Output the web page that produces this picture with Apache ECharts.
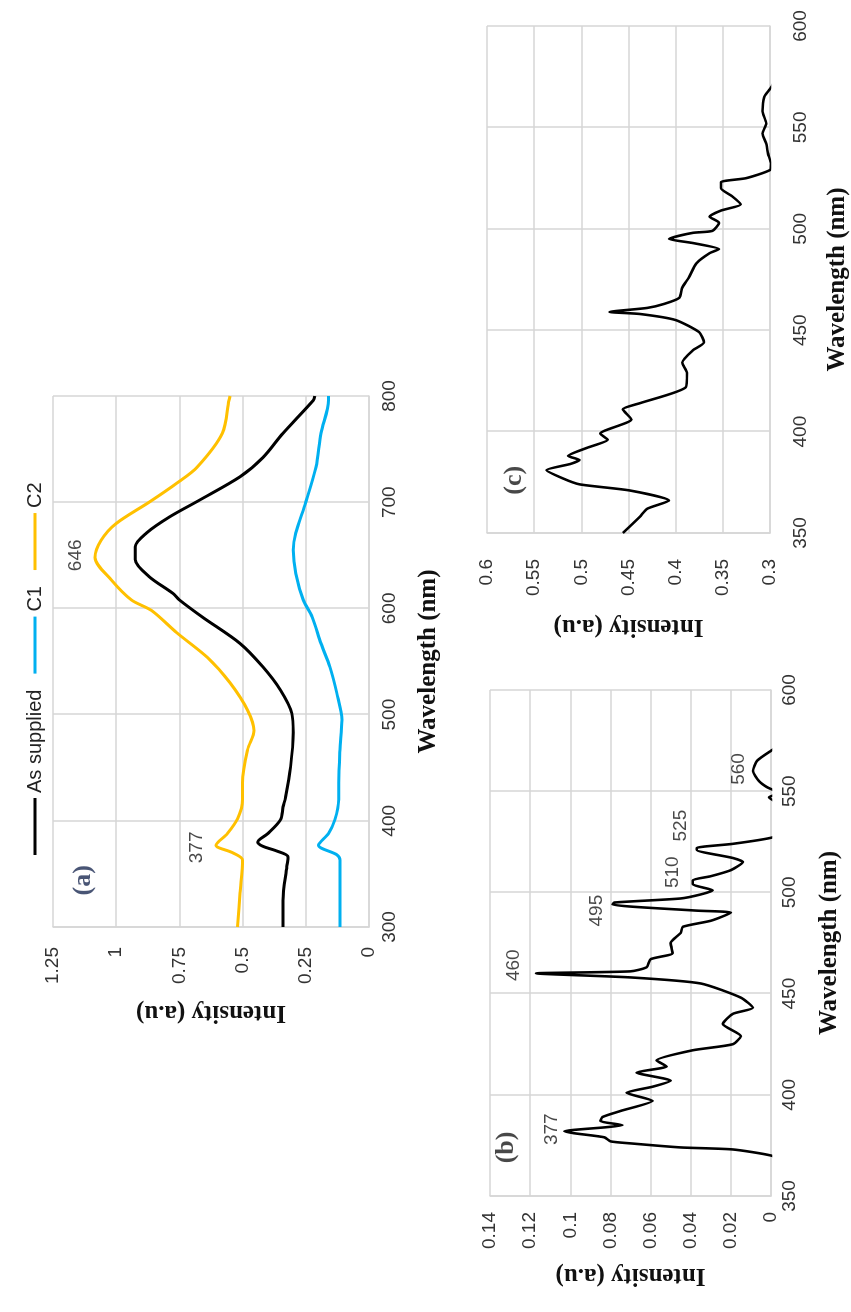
<!DOCTYPE html>
<html>
<head>
<meta charset="utf-8">
<script src="https://cdn.jsdelivr.net/npm/echarts@6/dist/echarts.min.js"></script>
<style>
html,body{margin:0;padding:0;background:#fff;overflow:hidden;width:851px;height:1312px;}
#rot{position:absolute;left:0;top:0;width:1312px;height:851px;transform-origin:0 0;transform:translate(0px,1312px) rotate(-90deg);}
#chart{width:1312px;height:851px;}
</style>
</head>
<body>
<div id="rot"><div id="chart"></div></div>
<script>
// ---- Data (wavelength nm, intensity a.u.) ----
const seriesNamesA = ['As supplied', 'C1', 'C2'];

const asSupplied = [[300,0.34],[325,0.34],[357,0.325],[366,0.32],[372,0.37],[376,0.42],[380,0.44],[388,0.40],[401,0.35],[413,0.34],[422,0.33],[451,0.31],[483,0.30],[501,0.305],[523,0.35],[545,0.42],[567,0.51],[592,0.66],[608,0.75],[614,0.775],[630,0.87],[646,0.925],[658,0.925],[671,0.88],[686,0.79],[702,0.67],[724,0.51],[742,0.42],[765,0.34],[796,0.22],[800,0.215]];

const c1 = [[300,0.115],[363,0.115],[368,0.127],[377,0.20],[388,0.16],[401,0.135],[420,0.12],[436,0.12],[467,0.115],[495,0.107],[520,0.127],[545,0.155],[567,0.19],[592,0.225],[608,0.26],[633,0.29],[655,0.30],[671,0.29],[700,0.25],[733,0.21],[765,0.19],[796,0.16],[800,0.16]];

const c2 = [[300,0.52],[332,0.51],[363,0.50],[370,0.54],[377,0.605],[388,0.56],[402,0.52],[420,0.50],[436,0.50],[467,0.48],[485,0.455],[504,0.48],[530,0.55],[554,0.64],[577,0.76],[598,0.86],[608,0.94],[627,1.02],[648,1.084],[664,1.06],[680,1.0],[700,0.87],[718,0.76],[733,0.68],[765,0.58],[796,0.554],[800,0.55]];

const spectrumB = [[366,-0.01],[370,0.0],[373,0.019],[374,0.045],[376,0.07],[377,0.08],[379,0.083],[381,0.098],[382,0.103],[384,0.082],[385,0.074],[387,0.085],[389,0.084],[392,0.075],[397,0.059],[401,0.072],[404,0.059],[407,0.05],[411,0.067],[414,0.052],[417,0.057],[422,0.039],[425,0.019],[429,0.015],[435,0.024],[440,0.019],[443,0.009],[448,0.015],[455,0.035],[458,0.07],[460,0.117],[461,0.07],[463,0.062],[467,0.06],[470,0.049],[475,0.05],[480,0.045],[483,0.044],[486,0.03],[490,0.02],[491,0.037],[494,0.079],[495,0.078],[497,0.045],[499,0.035],[501,0.029],[504,0.039],[506,0.039],[508,0.03],[511,0.02],[515,0.014],[517,0.019],[521,0.037],[522,0.037],[524,0.019],[527,0.0],[531,-0.01],[540,-0.01],[547,0.001],[549,-0.004],[552,0.002],[555,0.006],[560,0.009],[565,0.007],[570,0.0],[575,-0.008]];

const spectrumC = [[350,0.456],[358,0.438],[362,0.43],[366,0.407],[371,0.449],[374,0.502],[377,0.52],[381,0.537],[384,0.512],[386,0.502],[388,0.514],[392,0.494],[396,0.472],[399,0.48],[406,0.447],[411,0.456],[414,0.438],[422,0.389],[429,0.388],[434,0.393],[440,0.382],[444,0.37],[449,0.375],[455,0.40],[458,0.438],[459,0.47],[461,0.43],[463,0.412],[466,0.396],[471,0.393],[476,0.386],[483,0.378],[488,0.364],[490,0.354],[493,0.382],[495,0.407],[498,0.382],[499,0.361],[503,0.354],[506,0.364],[509,0.352],[512,0.331],[516,0.34],[520,0.352],[523,0.352],[525,0.325],[529,0.30],[532,0.299],[537,0.302],[542,0.304],[547,0.308],[552,0.304],[558,0.308],[565,0.306],[569,0.30],[572,0.296],[580,0.29]];

// peak annotations: [text, wavelength, intensity]
const peaksA = [['646',650,1.16],['377',375,0.68]];
const peaksB = [['377',383,0.109],['460',464,0.128],['495',491,0.087],['510',510,0.049],['525',533,0.045],['560',561,0.016]];
const panelLabels = [['(a)',0,344,1.13],['(b)',1,374,0.132],['(c)',2,376,0.571]];

// ---- Styling ----
const gridColor = '#d6d6d6';
const tickFont = {fontFamily:'Liberation Sans', fontSize:19, color:'#333'};
const nameFont = {fontFamily:'Liberation Serif', fontWeight:'bold', fontSize:25, color:'#111'};

function xAx(idx, min, max, interval, labelMargin, nameGap){
  return {type:'value', gridIndex:idx, min:min, max:max, interval:interval,
    name:'Wavelength (nm)', nameLocation:'middle', nameGap:nameGap, nameTextStyle:nameFont,
    axisLine:{show:true, lineStyle:{color:gridColor, width:1.5}}, axisTick:{show:false},
    axisLabel:Object.assign({margin:labelMargin}, tickFont),
    splitLine:{show:true, lineStyle:{color:gridColor, width:1.5}}};
}
function yAx(idx, min, max, interval, labelMargin, nameGap){
  return {type:'value', gridIndex:idx, min:min, max:max, interval:interval,
    name:'Intensity (a.u)', nameLocation:'middle', nameGap:nameGap, nameRotate:90, nameTextStyle:nameFont,
    axisLine:{show:true, lineStyle:{color:gridColor, width:1.5}}, axisTick:{show:false},
    axisLabel:Object.assign({margin:labelMargin}, tickFont),
    splitLine:{show:true, lineStyle:{color:gridColor, width:1.5}}};
}

function lineS(name, data, color, xi, width, smooth){
  return {name:name, type:'line', xAxisIndex:xi, yAxisIndex:xi, data:data, showSymbol:false, symbol:'none',
    smooth:smooth, clip:true, lineStyle:{color:color, width:width}, itemStyle:{color:color}, silent:true, z:3};
}
function labelS(items, xi, style){
  return {type:'scatter', xAxisIndex:xi, yAxisIndex:xi, symbolSize:1, silent:true, clip:false,
    itemStyle:{color:'rgba(0,0,0,0)'},
    label:Object.assign({show:true, position:'inside', formatter:'{b}'}, style),
    data:items.map(p=>({name:p[0], value:[p[1],p[2]]})), z:5};
}

const peakStyle = {fontFamily:'Liberation Sans', fontSize:19, color:'#1a1a1a'};
const panelStyle = {fontFamily:'Liberation Serif', fontWeight:'bold', fontSize:26, color:'#1a1a1a'};

const series = [
  lineS(seriesNamesA[0], asSupplied, '#000000', 0, 3, 0.3),
  lineS(seriesNamesA[1], c1, '#00B0F0', 0, 3, 0.3),
  lineS(seriesNamesA[2], c2, '#FFC000', 0, 3, 0.3),
  lineS('b', spectrumB, '#000000', 1, 2.6, 0.2),
  lineS('c', spectrumC, '#000000', 2, 2.6, 0.2),
  labelS(peaksA, 0, peakStyle),
  labelS(peaksB, 1, peakStyle)
];
panelLabels.forEach(p=>{
  series.push(labelS([[p[0],p[2],p[3]]], p[1], panelStyle));
});
series[7].label.color = '#1c2b52';

const chart = echarts.init(document.getElementById('chart'), null, {width:1312, height:851, renderer:'canvas'});
chart.setOption({
  animation:false,
  backgroundColor:'#ffffff',
  legend:{data:seriesNamesA, left:452, top:20, icon:'rect', itemWidth:57, itemHeight:3, itemGap:16,
    textStyle:{fontFamily:'Liberation Sans', fontSize:20, color:'#222'}},
  grid:[
    {left:385, top:53, width:531, height:316},
    {left:116, top:490, width:506, height:281},
    {left:779, top:487, width:507, height:284}
  ],
  xAxis:[xAx(0,300,800,100,11,47), xAx(1,350,600,50,9,46), xAx(2,350,600,50,21,55)],
  yAxis:[yAx(0,0,1.25,0.25,20,73), yAx(1,0,0.14,0.02,16,67), yAx(2,0.3,0.6,0.05,26,81)],
  series:series
});
</script>
</body>
</html>
